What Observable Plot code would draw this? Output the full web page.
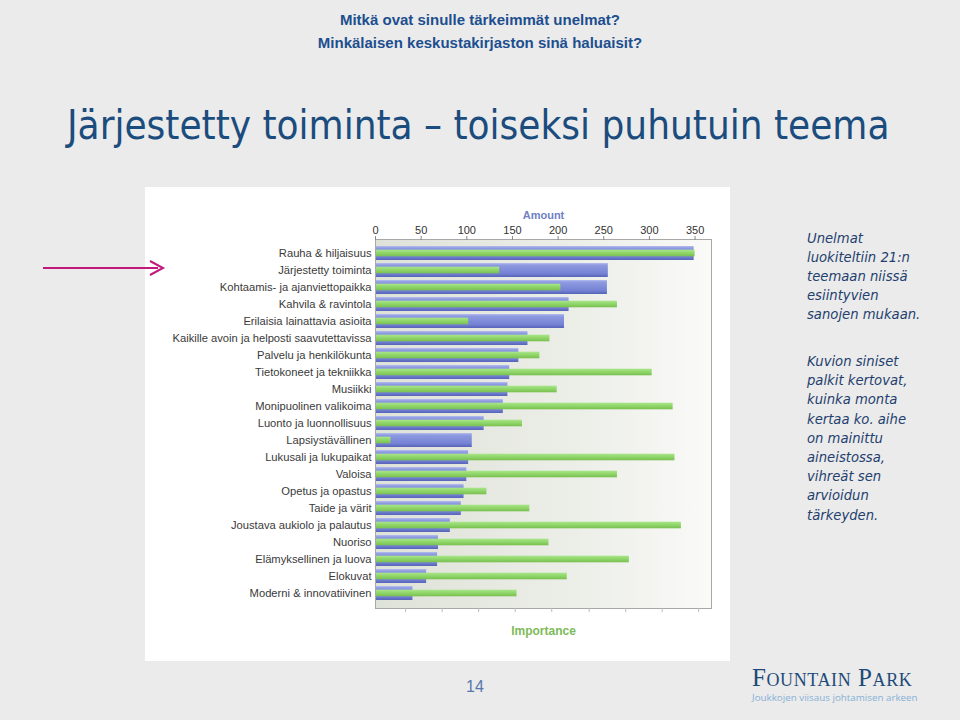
<!DOCTYPE html>
<html><head><meta charset="utf-8">
<script src="https://cdn.jsdelivr.net/npm/d3@7"></script>
<script src="https://cdn.jsdelivr.net/npm/@observablehq/plot@0.6"></script>
<style>
html,body{margin:0;padding:0;}
body{width:960px;height:720px;background:#ebebeb;position:relative;overflow:hidden;font-family:"Liberation Sans",Arial,sans-serif;}
.abs{position:absolute;}
#hdr{left:0;width:960px;top:8px;text-align:center;color:#1d4f8f;font-weight:bold;font-size:15px;line-height:23px;}
#title{left:67px;top:102px;color:#1b4c7e;font-family:"DejaVu Sans Condensed","DejaVu Sans",sans-serif;font-size:40px;white-space:nowrap;}
#panel{left:145px;top:187px;width:585px;height:474px;background:#fff;}
#note{left:807px;top:229px;color:#1f3f6e;font-family:"DejaVu Sans",sans-serif;font-style:italic;font-size:13.2px;line-height:19px;}
#note2{left:807px;top:352px;color:#1f3f6e;font-family:"DejaVu Sans",sans-serif;font-style:italic;font-size:13.2px;line-height:19.2px;}
#page{left:466px;top:678px;color:#5877ab;font-size:16px;}
#logo{left:752px;top:664px;color:#1d4a78;font-family:"Liberation Serif",serif;font-variant:small-caps;font-size:25px;letter-spacing:0.6px;white-space:nowrap;}
#tag{left:752px;top:691px;color:#86b0d6;font-family:"Open Sans",sans-serif;font-size:9.8px;white-space:nowrap;}
</style></head>
<body>
<div id="hdr" class="abs">Mitkä ovat sinulle tärkeimmät unelmat?<br>Minkälaisen keskustakirjaston sinä haluaisit?</div>
<div id="title" class="abs">Järjestetty toiminta – toiseksi puhutuin teema</div>
<div id="panel" class="abs"></div>
<div id="chart" class="abs" style="left:145px;top:187px;"></div>
<svg class="abs" style="left:0;top:0;" width="200" height="300">
  <line x1="43" y1="268" x2="158" y2="268" stroke="#c2187c" stroke-width="2"/>
  <path d="M150,261 L163,268 L150,275" fill="none" stroke="#c2187c" stroke-width="2"/>
</svg>
<div id="note" class="abs">Unelmat<br>luokiteltiin 21:n<br>teemaan niissä<br>esiintyvien<br>sanojen mukaan.</div>
<div id="note2" class="abs">Kuvion siniset<br>palkit kertovat,<br>kuinka monta<br>kertaa ko. aihe<br>on mainittu<br>aineistossa,<br>vihreät sen<br>arvioidun<br>tärkeyden.</div>
<div id="page" class="abs">14</div>
<div id="logo" class="abs">Fountain Park</div>
<div id="tag" class="abs">Joukkojen viisaus johtamisen arkeen</div>
<script>
const themes = [
  "Rauha & hiljaisuus","Järjestetty toiminta","Kohtaamis- ja ajanviettopaikka","Kahvila & ravintola",
  "Erilaisia lainattavia asioita","Kaikille avoin ja helposti saavutettavissa","Palvelu ja henkilökunta",
  "Tietokoneet ja tekniikka","Musiikki","Monipuolinen valikoima","Luonto ja luonnollisuus",
  "Lapsiystävällinen","Lukusali ja lukupaikat","Valoisa","Opetus ja opastus","Taide ja värit",
  "Joustava aukiolo ja palautus","Nuoriso","Elämyksellinen ja luova","Elokuvat","Moderni & innovatiivinen"
];
const amount = [349,255,254,212,207,167,157,147,145,140,119,106,102,100,97,94,82,69,68,56,41];
const importance = [350,136,203,265,102,191,180,303,199,326,161,17,328,265,122,169,335,190,278,210,155];
const amountTicks = [0,50,100,150,200,250,300,350];
const importanceTicks = [33,73,113,153,193,234,274,314,354];

const data = themes.map((t,i)=>({theme:t, amount:amount[i], importance:importance[i]}));

const defs = () => {
  const g = d3.create("svg:defs");
  const lg = (id, x2, y2, stops) => {
    const el = g.append("linearGradient").attr("id", id).attr("x1",0).attr("y1",0).attr("x2",x2).attr("y2",y2);
    stops.forEach(([o,c]) => el.append("stop").attr("offset",o).attr("stop-color",c));
  };
  lg("bgGrad",1,0,[[0,"#dfe2d8"],[0.6,"#eceee8"],[1,"#fafaf8"]]);
  lg("blueGrad",0,1,[[0,"#b4bdf0"],[0.15,"#8e9ae0"],[0.75,"#7582d4"],[1,"#5563b8"]]);
  lg("greenGrad",0,1,[[0,"#a8e68a"],[0.5,"#8fd568"],[1,"#78bf52"]]);
  return g.node();
};

const plot = Plot.plot({
  width: 585, height: 474,
  marginLeft: 230, marginRight: 19, marginTop: 52, marginBottom: 53,
  style: {background: "transparent", fontFamily: "'Liberation Sans', Arial, sans-serif", fontSize: "11px", color: "#333"},
  x: {domain: [0, 368], axis: null},
  y: {domain: themes, paddingInner: 0.17, paddingOuter: 0.4, axis: null},
  marks: [
    defs,
    Plot.frame({fill: "url(#bgGrad)"}),
    Plot.barX(data, {x: "amount", y: "theme", fill: "url(#blueGrad)"}),
    Plot.barX(data, {x: "importance", y: "theme", fill: "url(#greenGrad)", insetTop: 3.7, insetBottom: 3.7}),
    Plot.frame({stroke: "#a8a8a8"}),
    Plot.axisX({anchor: "top", ticks: amountTicks, tickSize: 4, tickPadding: 2, label: null, fontSize: 11, stroke: "#888"}),
    Plot.axisX({anchor: "bottom", ticks: importanceTicks, tickSize: 4, tickFormat: () => "", label: null, stroke: "#bbb"}),
    Plot.axisY({anchor: "left", tickSize: 0, tickPadding: 4, label: null, fontSize: 11.2, fill: "#3a3a3a"}),
    Plot.text(["Amount"], {frameAnchor: "top", dy: -28, text: d => d, fill: "#6f80c4", fontWeight: "bold", fontSize: 11}),
    Plot.text(["Importance"], {frameAnchor: "bottom", dy: 26, text: d => d, fill: "#7dba58", fontWeight: "bold", fontSize: 12})
  ]
});
document.getElementById("chart").appendChild(plot);
</script>
</body></html>
